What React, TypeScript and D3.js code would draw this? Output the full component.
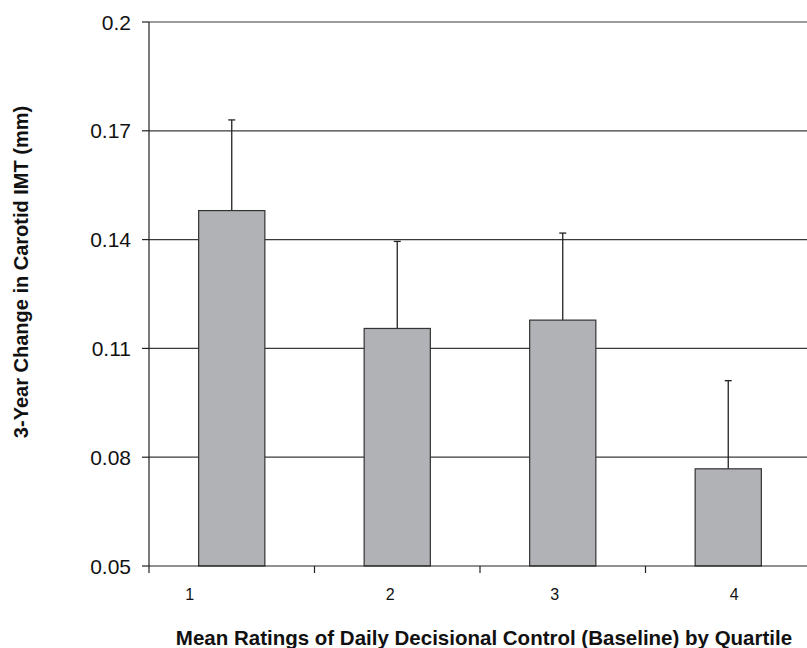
import React, { useEffect, useRef } from "react";
import * as d3 from "d3";

const quartiles = ["1", "2", "3", "4"];
const meanChange = [0.148, 0.1155, 0.1178, 0.0768];
const errorUp = [0.025, 0.024, 0.024, 0.0243];
const yTicks = [0.05, 0.08, 0.11, 0.14, 0.17, 0.2];
const yTickLabels = ["0.05", "0.08", "0.11", "0.14", "0.17", "0.2"];
// tick labels in the source sit a little off the bar centres
const labelNudge = [-42, -7, -8, 6];

const App = () => {
  const svgRef = useRef<SVGSVGElement>(null);

  useEffect(() => {
    document.body.style.margin = "0";
    drawChart();
  }, []);

  const drawChart = () => {
    const W = 807;
    const H = 648;
    const margin = { top: 22, left: 149, bottom: 82 };
    const plotRight = 811; // plot runs slightly past the right edge
    const plotBottom = H - margin.bottom;

    const svg = d3.select(svgRef.current).attr("width", W).attr("height", H);
    svg.selectAll("*").remove();

    const x = d3
      .scaleBand()
      .domain(quartiles)
      .range([margin.left, plotRight])
      .paddingInner(0.6)
      .paddingOuter(0.3);
    const y = d3.scaleLinear().domain([0.05, 0.2]).range([plotBottom, margin.top]);

    const font = "'Liberation Sans', Arial, sans-serif";

    // gridlines
    svg
      .append("g")
      .selectAll("line")
      .data(yTicks.slice(1))
      .enter()
      .append("line")
      .attr("x1", margin.left)
      .attr("x2", plotRight)
      .attr("y1", (d) => y(d))
      .attr("y2", (d) => y(d))
      .attr("stroke", "#3a3a3a")
      .attr("stroke-width", 1.2);

    // error bars (upper only)
    const rows = quartiles.map((q, i) => ({ q, v: meanChange[i], e: errorUp[i] }));
    const eb = svg.append("g").attr("stroke", "#222").attr("stroke-width", 1.3);
    rows.forEach((d) => {
      const cx = x(d.q)! + x.bandwidth() / 2;
      eb.append("line")
        .attr("x1", cx)
        .attr("x2", cx)
        .attr("y1", y(d.v))
        .attr("y2", y(d.v + d.e));
      eb.append("line")
        .attr("x1", cx - 3.5)
        .attr("x2", cx + 3.5)
        .attr("y1", y(d.v + d.e))
        .attr("y2", y(d.v + d.e));
    });

    // bars
    svg
      .append("g")
      .selectAll("rect")
      .data(rows)
      .enter()
      .append("rect")
      .attr("x", (d) => x(d.q)!)
      .attr("y", (d) => y(d.v))
      .attr("width", x.bandwidth())
      .attr("height", (d) => plotBottom - y(d.v))
      .attr("fill", "#b1b2b6")
      .attr("stroke", "#333")
      .attr("stroke-width", 1.2);

    // y axis
    const ya = svg.append("g");
    ya.append("line")
      .attr("x1", margin.left)
      .attr("x2", margin.left)
      .attr("y1", margin.top)
      .attr("y2", plotBottom)
      .attr("stroke", "#222")
      .attr("stroke-width", 1.2);
    yTicks.forEach((t, i) => {
      ya.append("line")
        .attr("x1", margin.left - 7)
        .attr("x2", margin.left)
        .attr("y1", y(t))
        .attr("y2", y(t))
        .attr("stroke", "#222")
        .attr("stroke-width", 1.2);
      ya.append("text")
        .attr("x", margin.left - 18)
        .attr("y", y(t))
        .attr("dy", "0.36em")
        .attr("text-anchor", "end")
        .style("font-family", font)
        .style("font-size", "21px")
        .style("fill", "#111")
        .text(yTickLabels[i]);
    });

    // x axis
    const xa = svg.append("g");
    xa.append("line")
      .attr("x1", margin.left)
      .attr("x2", plotRight)
      .attr("y1", plotBottom)
      .attr("y2", plotBottom)
      .attr("stroke", "#222")
      .attr("stroke-width", 1.2);
    quartiles.forEach((q, i) => {
      const bx = x(q)! - x.step() * x.paddingOuter();
      xa.append("line")
        .attr("x1", bx)
        .attr("x2", bx)
        .attr("y1", plotBottom)
        .attr("y2", plotBottom + 7)
        .attr("stroke", "#222")
        .attr("stroke-width", 1.2);
      xa.append("text")
        .attr("x", x(q)! + x.bandwidth() / 2 + labelNudge[i])
        .attr("y", plotBottom + 28)
        .attr("dy", "0.36em")
        .attr("text-anchor", "middle")
        .style("font-family", font)
        .style("font-size", "16px")
        .style("fill", "#111")
        .text(q);
    });

    // axis titles
    svg
      .append("text")
      .attr("x", 484)
      .attr("y", H - 3)
      .attr("text-anchor", "middle")
      .style("font-family", font)
      .style("font-size", "20.5px")
      .style("font-weight", "bold")
      .style("fill", "#111")
      .text("Mean Ratings of Daily Decisional Control (Baseline) by Quartile");

    svg
      .append("text")
      .attr("transform", "rotate(-90)")
      .attr("x", -272)
      .attr("y", 28)
      .attr("text-anchor", "middle")
      .style("font-family", font)
      .style("font-size", "20px")
      .style("font-weight", "bold")
      .style("fill", "#111")
      .text("3-Year Change in Carotid IMT (mm)");
  };

  return <svg ref={svgRef} style={{ display: "block" }}></svg>;
};

export default App;
